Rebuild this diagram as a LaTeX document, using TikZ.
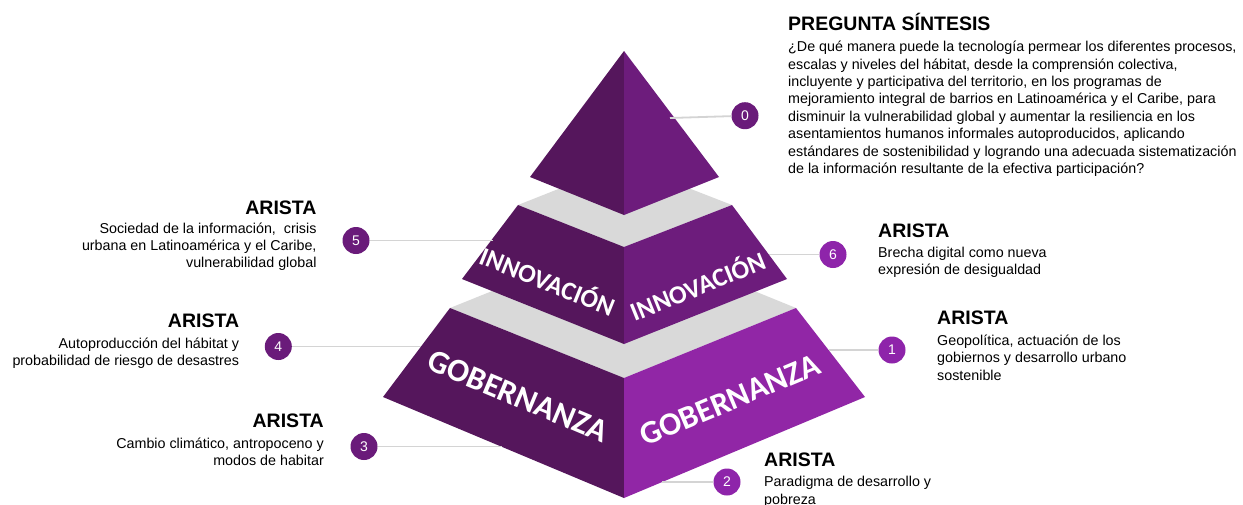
\documentclass[tikz,border=0pt]{standalone}
\usepackage{fontspec}
\setmainfont{Liberation Sans}
\newfontfamily\bandfont{Carlito}
\usepackage{tikz}
\usetikzlibrary{positioning}
\definecolor{darkface}{HTML}{55165C}
\definecolor{midface}{HTML}{6D1C7C}
\definecolor{lightface}{HTML}{9126A6}
\definecolor{topgray}{HTML}{D9D9D9}
\definecolor{linkgray}{HTML}{D4D4D4}
\definecolor{numdark}{HTML}{6A1B7A}
\definecolor{numlight}{HTML}{8E24AA}
\tikzset{
  num/.style={circle,fill=numdark,text=white,minimum size=27pt,inner sep=0pt,
    font=\fontsize{14}{14}\selectfont},
  link/.style={draw=linkgray,line width=1.8pt},
  heading/.style={inner sep=0pt,font=\fontsize{19.5}{20}\selectfont\bfseries},
  body/.style={inner sep=0pt,font=\fontsize{14.3}{17.4}\selectfont},
  face label/.style={text=white,inner sep=0pt,font=\bandfont\bfseries\fontsize{26}{26}\selectfont},
}

\begin{document}
\begin{tikzpicture}[x=1pt,y=-1pt]
      \useasboundingbox[fill=white] (0,0) rectangle (1243,504);

      \fill[topgray] (450,308) -- (624,238) -- (796,308) -- (624,378) -- cycle;
      \fill[darkface] (450,308) -- (624,378) -- (624,498) -- (383,397) -- cycle;
      \fill[lightface] (624,378) -- (796,308) -- (865,397) -- (624,498) -- cycle;

      \fill[topgray] (518,205) -- (624,163) -- (732,205) -- (624,247) -- cycle;
      \fill[darkface] (518,205) -- (624,247) -- (624,344) -- (462,279) -- cycle;
      \fill[midface] (624,247) -- (732,205) -- (787,279) -- (624,344) -- cycle;

      \fill[darkface] (624,51) -- (530,177) -- (624,215) -- cycle;
      \fill[midface] (624,51) -- (624,215) -- (719,177) -- cycle;

      \node[face label,rotate=-22] (innoleft) at (548,280) {INNOVACIÓN};
      \node[face label,rotate=22] (innoright) at (697,285) {INNOVACIÓN};
      \node[face label,rotate=-22.7,font=\bandfont\bfseries\fontsize{32.5}{32}\selectfont] (gobleft) at (518,396) {GOBERNANZA};
      \node[face label,rotate=22.7,font=\bandfont\bfseries\fontsize{32.5}{32}\selectfont] (gobright) at (730,400) {GOBERNANZA};

      \node[num] (n0) at (745,115.7) {0};
      \node[num,fill=numlight] (n6) at (833,254.5) {6};
      \node[num,fill=numlight] (n1) at (892,350) {1};
      \node[num,fill=numlight] (n2) at (727,482) {2};
      \node[num] (n5) at (356,240.5) {5};
      \node[num] (n4) at (278.3,346.5) {4};
      \node[num] (n3) at (364,446.5) {3};

      \coordinate (p0) at (670,118);
      \coordinate (p6) at (769,254.5);
      \coordinate (p1) at (829,350);
      \coordinate (p2) at (662,482);
      \coordinate (p5) at (493,240.5);
      \coordinate (p4) at (421,346.5);
      \coordinate (p3) at (502,446.5);

      \path[link] (p0) edge (n0) (p6) edge (n6) (p1) edge (n1) (p2) edge (n2)
                  (p5) edge (n5) (p4) edge (n4) (p3) edge (n3);

      \node[heading,anchor=base west] (pregunta) at (788,30) {PREGUNTA SÍNTESIS};
      \node[body,anchor=north west,align=left] (preguntatxt) at (788,41) {¿De qué manera puede la tecnología permear los diferentes procesos,\\
        escalas y niveles del hábitat, desde la comprensión colectiva,\\
        incluyente y participativa del territorio, en los programas de\\
        mejoramiento integral de barrios en Latinoamérica y el Caribe, para\\
        disminuir la vulnerabilidad global y aumentar la resiliencia en los\\
        asentamientos humanos informales autoproducidos, aplicando\\
        estándares de sostenibilidad y logrando una adecuada sistematización\\
        de la información resultante de la efectiva participación?};

      \node[heading,anchor=base west] (arista6) at (878,237) {ARISTA};
      \node[body,anchor=north west,align=left] (arista6txt) at (878,247) {Brecha digital como nueva\\expresión de desigualdad};

      \node[heading,anchor=base west] (arista1) at (937,324.3) {ARISTA};
      \node[body,anchor=north west,align=left] (arista1txt) at (937,334.7) {Geopolítica, actuación de los\\gobiernos y desarrollo urbano\\sostenible};

      \node[heading,anchor=base west] (arista2) at (764,466) {ARISTA};
      \node[body,anchor=north west,align=left] (arista2txt) at (764,476.4) {Paradigma de desarrollo y\\pobreza};

      \node[heading,anchor=base east] (arista5) at (316.7,214) {ARISTA};
      \node[body,anchor=north east,align=right] (arista5txt) at (316.7,222.4) {Sociedad de la información,~ crisis\\urbana en Latinoamérica y el Caribe,\\vulnerabilidad global};

      \node[heading,anchor=base east] (arista4) at (239.3,327.7) {ARISTA};
      \node[body,anchor=north east,align=right] (arista4txt) at (239.3,337.4) {Autoproducción del hábitat y\\probabilidad de riesgo de desastres};

      \node[heading,anchor=base east] (arista3) at (324,427.7) {ARISTA};
      \node[body,anchor=north east,align=right] (arista3txt) at (324,437.7) {Cambio climático, antropoceno y\\modos de habitar};
\end{tikzpicture}
\end{document}
